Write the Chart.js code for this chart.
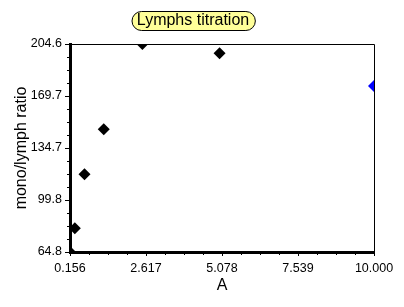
<!DOCTYPE html>
<html>
<head>
<meta charset="utf-8">
<script src="https://cdn.jsdelivr.net/npm/chart.js@4/dist/chart.umd.min.js"></script>
<style>
    html, body { margin: 0; padding: 0; background: #fff; }
    canvas { display: block; }
</style>
</head>
<body>
<canvas id="titrationChart" width="404" height="307"></canvas>
<script>
const titleText = 'Lymphs titration';
const xAxisTitle = 'A';
const yAxisTitle = 'mono/lymph ratio';

const dilutions = [0.15625, 0.3125, 0.625, 1.25, 2.5, 5, 10];
const ratios = [64.8, 80.7, 117.0, 147.3, 204.6, 198.3, 176.4];

const xTickValues = [0.15625, 2.6171875, 5.078125, 7.5390625, 10];
const xTickLabels = ['0.156', '2.617', '5.078', '7.539', '10.000'];
const yTickValues = [64.8, 99.75, 134.7, 169.65, 204.6];
const yTickLabels = ['64.8', '99.8', '134.7', '169.7', '204.6'];

const FONT = 'Liberation Sans, Arial, sans-serif';

// top/right frame, minor ticks and the boxed title
const framePlugin = {
    id: 'frame',
    afterDraw(chart) {
        const { ctx, chartArea: a } = chart;
        ctx.save();
        ctx.strokeStyle = '#000';
        ctx.lineWidth = 1;
        ctx.beginPath();
        ctx.moveTo(a.left, a.top + 0.5);
        ctx.lineTo(a.right + 0.5, a.top + 0.5);
        ctx.lineTo(a.right + 0.5, a.bottom);
        ctx.stroke();

        // minor ticks, 4 subdivisions per major step
        const xs = chart.scales.x, ys = chart.scales.y;
        ctx.beginPath();
        for (let i = 0; i < yTickValues.length - 1; i++) {
            for (let k = 1; k < 4; k++) {
                const v = yTickValues[i] + (yTickValues[i + 1] - yTickValues[i]) * k / 4;
                const py = Math.round(ys.getPixelForValue(v)) + 0.5;
                ctx.moveTo(a.left - 3, py);
                ctx.lineTo(a.left, py);
            }
        }
        for (let i = 0; i < xTickValues.length - 1; i++) {
            for (let k = 1; k < 4; k++) {
                const v = xTickValues[i] + (xTickValues[i + 1] - xTickValues[i]) * k / 4;
                const px = Math.round(xs.getPixelForValue(v)) + 0.5;
                ctx.moveTo(px, a.bottom);
                ctx.lineTo(px, a.bottom + 3);
            }
        }
        ctx.stroke();

        // title in a yellow pill
        ctx.font = '16px ' + FONT;
        const w = ctx.measureText(titleText).width;
        const cx = 193, cy = 21;
        const bw = w + 10, bh = 19, r = 9;
        const bx = Math.round(cx - bw / 2) + 0.5, by = 11.5;
        ctx.beginPath();
        ctx.moveTo(bx + r, by);
        ctx.lineTo(bx + bw - r, by);
        ctx.arc(bx + bw - r, by + bh / 2, bh / 2, -Math.PI / 2, Math.PI / 2);
        ctx.lineTo(bx + r, by + bh);
        ctx.arc(bx + r, by + bh / 2, bh / 2, Math.PI / 2, Math.PI * 1.5);
        ctx.closePath();
        ctx.fillStyle = '#ffff99';
        ctx.fill();
        ctx.stroke();
        ctx.fillStyle = '#000';
        ctx.textAlign = 'center';
        ctx.textBaseline = 'middle';
        ctx.fillText(titleText, cx, cy);
        ctx.restore();
    }
};

new Chart(document.getElementById('titrationChart'), {
    type: 'scatter',
    data: {
        datasets: [{
            data: dilutions.map((x, i) => ({ x: x, y: ratios[i] })),
            pointStyle: 'rectRot',
            pointRadius: 6,
            pointBorderWidth: 0,
            backgroundColor: ctx => ctx.dataIndex === dilutions.length - 1 ? '#0000ff' : '#000000',
            borderColor: ctx => ctx.dataIndex === dilutions.length - 1 ? '#0000ff' : '#000000',
            clip: 0
        }]
    },
    options: {
        responsive: false,
        animation: false,
        layout: { padding: { top: 44, right: 30, bottom: 0, left: 0 } },
        plugins: { legend: { display: false }, tooltip: { enabled: false } },
        scales: {
            x: {
                type: 'linear',
                min: xTickValues[0],
                max: xTickValues[xTickValues.length - 1],
                afterBuildTicks: s => { s.ticks = xTickValues.map(v => ({ value: v })); },
                afterFit: s => { s.height = 55; s.paddingLeft = 0; s.paddingRight = 0; },
                border: { display: true, color: '#000', width: 3 },
                grid: { drawOnChartArea: false, drawTicks: true, tickLength: 4, tickColor: '#000', tickWidth: 1 },
                ticks: {
                    autoSkip: false,
                    maxRotation: 0,
                    padding: 5,
                    color: '#000',
                    font: { family: FONT, size: 12.5 },
                    callback: (v, i) => xTickLabels[i]
                },
                title: {
                    display: true,
                    text: xAxisTitle,
                    color: '#000',
                    font: { family: FONT, size: 16 },
                    padding: { top: 0, bottom: 12 }
                }
            },
            y: {
                type: 'linear',
                min: yTickValues[0],
                max: yTickValues[yTickValues.length - 1],
                afterBuildTicks: s => { s.ticks = yTickValues.map(v => ({ value: v })); },
                afterFit: s => { s.width = 70; s.paddingTop = 0; s.paddingBottom = 0; },
                border: { display: true, color: '#000', width: 3 },
                grid: { drawOnChartArea: false, drawTicks: true, tickLength: 5, tickColor: '#000', tickWidth: 1 },
                ticks: {
                    autoSkip: false,
                    padding: 3,
                    color: '#000',
                    font: { family: FONT, size: 12.5 },
                    callback: (v, i) => yTickLabels[i]
                },
                title: {
                    display: true,
                    text: yAxisTitle,
                    color: '#000',
                    font: { family: FONT, size: 16 },
                    padding: { top: 12, bottom: 0 }
                }
            }
        }
    },
    plugins: [framePlugin]
});
</script>
</body>
</html>
